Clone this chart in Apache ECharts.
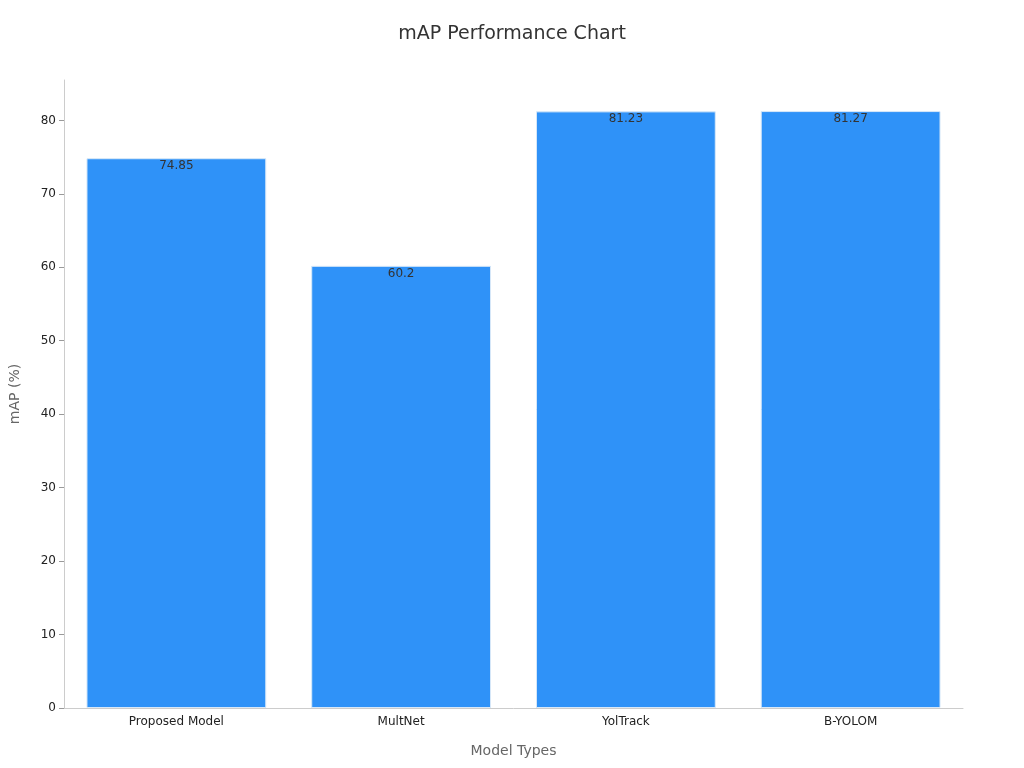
<!DOCTYPE html>
<html><head><meta charset="utf-8">
<script src="https://cdn.jsdelivr.net/npm/echarts@6/dist/echarts.min.js"></script>
<style>html,body{margin:0;padding:0;background:#fff}#c{width:1024px;height:768px}</style>
</head><body><div id="c"></div>
<script>
const categories = ["Proposed Model", "MultNet", "YolTrack", "B-YOLOM"];
const mapValues = [74.85, 60.2, 81.23, 81.27];
const chart = echarts.init(document.getElementById('c'));
chart.setOption({
  animation: false,
  textStyle: {fontFamily: 'DejaVu Sans'},
  title: {text: 'mAP Performance Chart', left: 'center', top: 20,
    textStyle: {fontSize: 19, fontWeight: 'normal', color: '#333', fontFamily: 'DejaVu Sans'}},
  grid: {left: 60, right: 61, top: 80, bottom: 60},
  xAxis: {type: 'category', data: categories, name: 'Model Types', nameLocation: 'middle', nameGap: 36,
    nameTextStyle: {fontSize: 14, color: '#666'},
    axisLine: {lineStyle: {color: '#ccc'}}, axisTick: {alignWithLabel: true, lineStyle: {color: '#999'}},
    axisLabel: {color: '#222', fontSize: 12}},
  yAxis: {type: 'value', min: 0, max: 85.5, interval: 10, name: 'mAP (%)', nameLocation: 'middle', nameGap: 42,
    nameTextStyle: {fontSize: 14, color: '#666'},
    axisLine: {show: true, lineStyle: {color: '#ccc'}}, axisTick: {show: true, lineStyle: {color: '#999'}},
    axisLabel: {color: '#222', fontSize: 12, showMaxLabel: false}, splitLine: {show: false}},
  series: [{type: 'bar', data: mapValues, barCategoryGap: '20%',
    itemStyle: {color: '#2f92f8', borderColor: '#d8e8f8', borderWidth: 1},
    label: {show: true, position: 'insideTop', color: '#333', fontSize: 12, offset: [0, -3]}}]
});
</script></body></html>
